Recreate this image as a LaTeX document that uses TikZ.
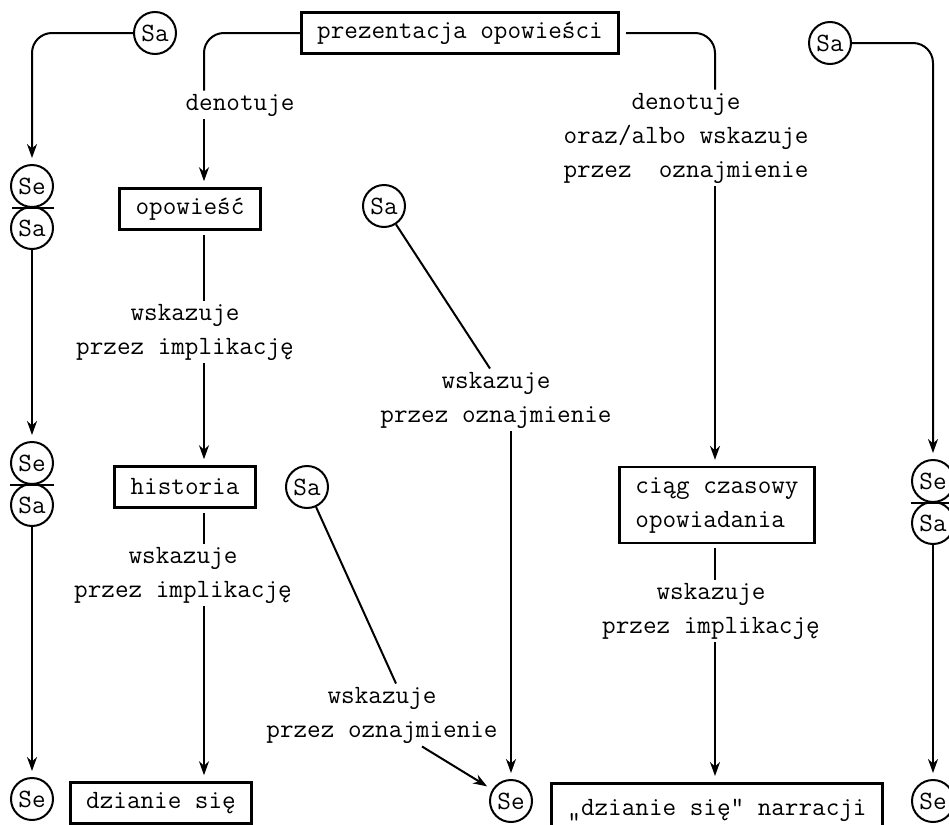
\documentclass[tikz,border=0pt]{standalone}
\usetikzlibrary{arrows.meta}
\tikzset{>={Stealth[length=7pt, width=5pt]}}
\tikzset{
  ramka/.style={draw, line width=1.3pt, inner xsep=8pt, inner ysep=4.5pt, minimum height=20.5pt},
  kolko/.style={draw, circle, line width=1pt, minimum size=21pt, inner sep=0pt},
  napis/.style={align=center, inner sep=1.5pt},
  linia/.style={line width=1pt},
  strzalka/.style={linia, ->, shorten >=3pt}
}

\begin{document}
\begin{tikzpicture}[x=0.5pt, y=-0.5pt, font=\fontsize{13.2}{17}\selectfont\ttfamily]
\useasboundingbox (0,0) rectangle (949,825);
\node[ramka] (prez) at (460,33) {prezentacja opowieści};
\node[kolko] (saA) at (155,33) {Sa};
\node[kolko] (saB) at (830,43) {Sa};
\node[kolko] (seA) at (32,186) {Se};
\node[kolko] (saC) at (32,228) {Sa};
\node[kolko] (seB) at (32,463) {Se};
\node[kolko] (saD) at (32,505) {Sa};
\node[kolko] (seC) at (32,799) {Se};
\node[kolko] (seD) at (933,481) {Se};
\node[kolko] (saE) at (933,523) {Sa};
\node[kolko] (seE) at (933,801) {Se};
\node[kolko] (saF) at (384,206) {Sa};
\node[kolko] (saG) at (307,487) {Sa};
\node[kolko] (seF) at (511,801) {Se};
\node[ramka] (opow) at (190,209) {opowieść};
\node[ramka] (hist) at (185,487) {historia};
\node[ramka] (dzia) at (161,803) {dzianie się};
\node[ramka, align=left, inner ysep=5pt] (ciag) at (717,505) {ciąg czasowy\\opowiadania};
\node[ramka, anchor=north, minimum height=27pt] (narr) at (717,782) {„dzianie się" narracji};
\node[napis] (denA) at (240,105) {denotuje};
\node[napis] (denB) at (686,138) {denotuje\\oraz/albo wskazuje\\przez\ \ oznajmienie};
\node[napis] (implA) at (185,332) {wskazuje\\przez implikację};
\node[napis] (implB) at (183,575) {wskazuje\\przez implikację};
\node[napis] (implC) at (711,611) {wskazuje\\przez implikację};
\node[napis] (oznA) at (496,400) {wskazuje\\przez oznajmienie};
\node[napis] (oznB) at (382,715) {wskazuje\\przez oznajmienie};
\coordinate (kB) at (204,0);
\coordinate (kC) at (511,0);
\coordinate (kD) at (715,0);
\draw[strzalka, rounded corners=10pt] (saA.west) -| (seA.north);
\draw[strzalka, rounded corners=10pt] (saB.east) -| (seD.north);
\draw[strzalka] (saC) -- (seB);
\draw[strzalka] (saD) -- (seC);
\draw[strzalka] (saE) -- (seE);
\draw[linia] ([xshift=-10pt]seA.south) -- ([xshift=11pt]seA.south);
\draw[linia] ([xshift=-11pt]seB.south) -- ([xshift=11pt]seB.south);
\draw[linia] ([xshift=-11pt]seD.south) -- ([xshift=11pt]seD.south);
\draw[linia, rounded corners=10pt] (prez.west) -| (kB |- denA.north);
\draw[strzalka] (kB |- denA.south) -- (kB |- opow.north);
\draw[linia, shorten <=2pt] (kB |- opow.south) -- (kB |- implA.north);
\draw[strzalka] (kB |- implA.south) -- (kB |- hist.north);
\draw[linia, shorten <=2pt] (kB |- hist.south) -- (kB |- implB.north);
\draw[strzalka] (kB |- implB.south) -- (kB |- dzia.north);
\draw[linia, rounded corners=10pt, shorten <=3pt] (prez.east) -| (kD |- denB.north);
\draw[strzalka] (kD |- denB.south) -- (kD |- ciag.north);
\draw[linia, shorten <=2pt] (kD |- ciag.south) -- (kD |- implC.north);
\draw[strzalka] (kD |- implC.south) -- (kD |- narr.north);
\draw[linia] (saF) -- ([xshift=-3pt]oznA.north);
\draw[strzalka] (kC |- oznA.south) -- (kC |- seF.north);
\draw[linia] (saG) -- ([xshift=7pt]oznB.north);
\draw[strzalka] ([xshift=20pt]oznB.south) -- (seF);
\end{tikzpicture}
\end{document}
